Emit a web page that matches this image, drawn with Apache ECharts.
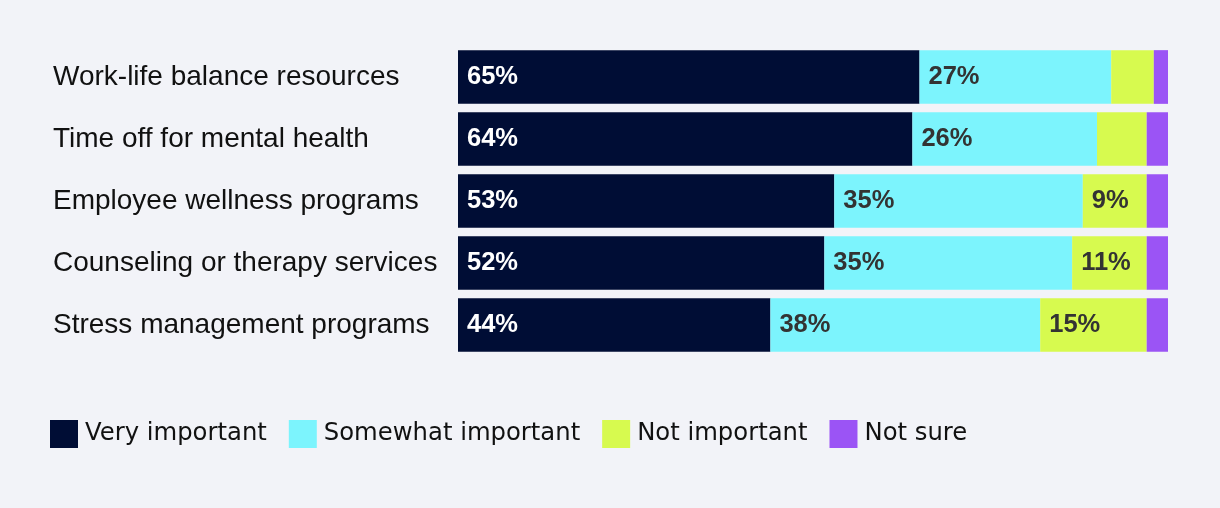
<!DOCTYPE html>
<html>
<head>
<meta charset="utf-8">
<script src="https://cdn.jsdelivr.net/npm/echarts@6/dist/echarts.min.js"></script>
<style>
html,body{margin:0;padding:0;background:#f2f3f8;}
#chart{width:1220px;height:508px;}
</style>
</head>
<body>
<div id="chart"></div>
<script>
const categories = [
  "Work-life balance resources",
  "Time off for mental health",
  "Employee wellness programs",
  "Counseling or therapy services",
  "Stress management programs"
];
const seriesNames = ["Very important", "Somewhat important", "Not important", "Not sure"];
const veryImportant = [65, 64, 53, 51.6, 44];
const somewhatImportant = [27, 26, 35, 34.9, 38];
const notImportant = [6, 7, 9, 10.5, 15];
const notSure = [2, 3, 3, 3, 3];
const colors = ["#000d35", "#7cf4fd", "#d7fa4f", "#9b54f5"];
const labelColors = ["#ffffff", "#333333", "#333333", "#333333"];
const minLabelValue = 8;

const allData = [veryImportant, somewhatImportant, notImportant, notSure];

const chart = echarts.init(document.getElementById('chart'));
const series = allData.map((d, i) => ({
  name: seriesNames[i],
  type: 'bar',
  stack: 'total',
  data: d,
  barCategoryGap: '13.4%',
  itemStyle: { color: colors[i] },
  emphasis: { disabled: true },
  label: {
    show: true,
    position: 'insideLeft',
    distance: 9,
    color: labelColors[i],
    fontFamily: '"Liberation Sans", Arial, sans-serif',
    fontWeight: 'bold',
    fontSize: 25.5,
    formatter: p => p.value >= minLabelValue ? Math.round(p.value) + '%' : ''
  }
}));

chart.setOption({
  backgroundColor: '#f2f3f8',
  animation: false,
  grid: { left: 458, right: 52, top: 46, height: 310 },
  xAxis: { type: 'value', min: 0, max: 100, show: false },
  yAxis: {
    type: 'category',
    inverse: true,
    data: categories,
    axisLine: { show: false },
    axisTick: { show: false },
    axisLabel: {
      align: 'left',
      margin: 405,
      color: '#111111',
      fontFamily: '"Liberation Sans", Arial, sans-serif',
      fontSize: 28,
      verticalAlign: 'middle',
      padding: [0, 0, 4, 0]
    }
  },
  legend: {
    left: 50,
    top: 420,
    padding: 0,
    itemWidth: 28,
    itemHeight: 28,
    itemGap: 22,
    icon: 'rect',
    textStyle: {
      color: '#111111',
      fontFamily: '"DejaVu Sans", sans-serif',
      fontSize: 24.3,
      padding: [3, 0, 0, 2]
    },
    data: seriesNames
  },
  series: series
});
</script>
</body>
</html>
